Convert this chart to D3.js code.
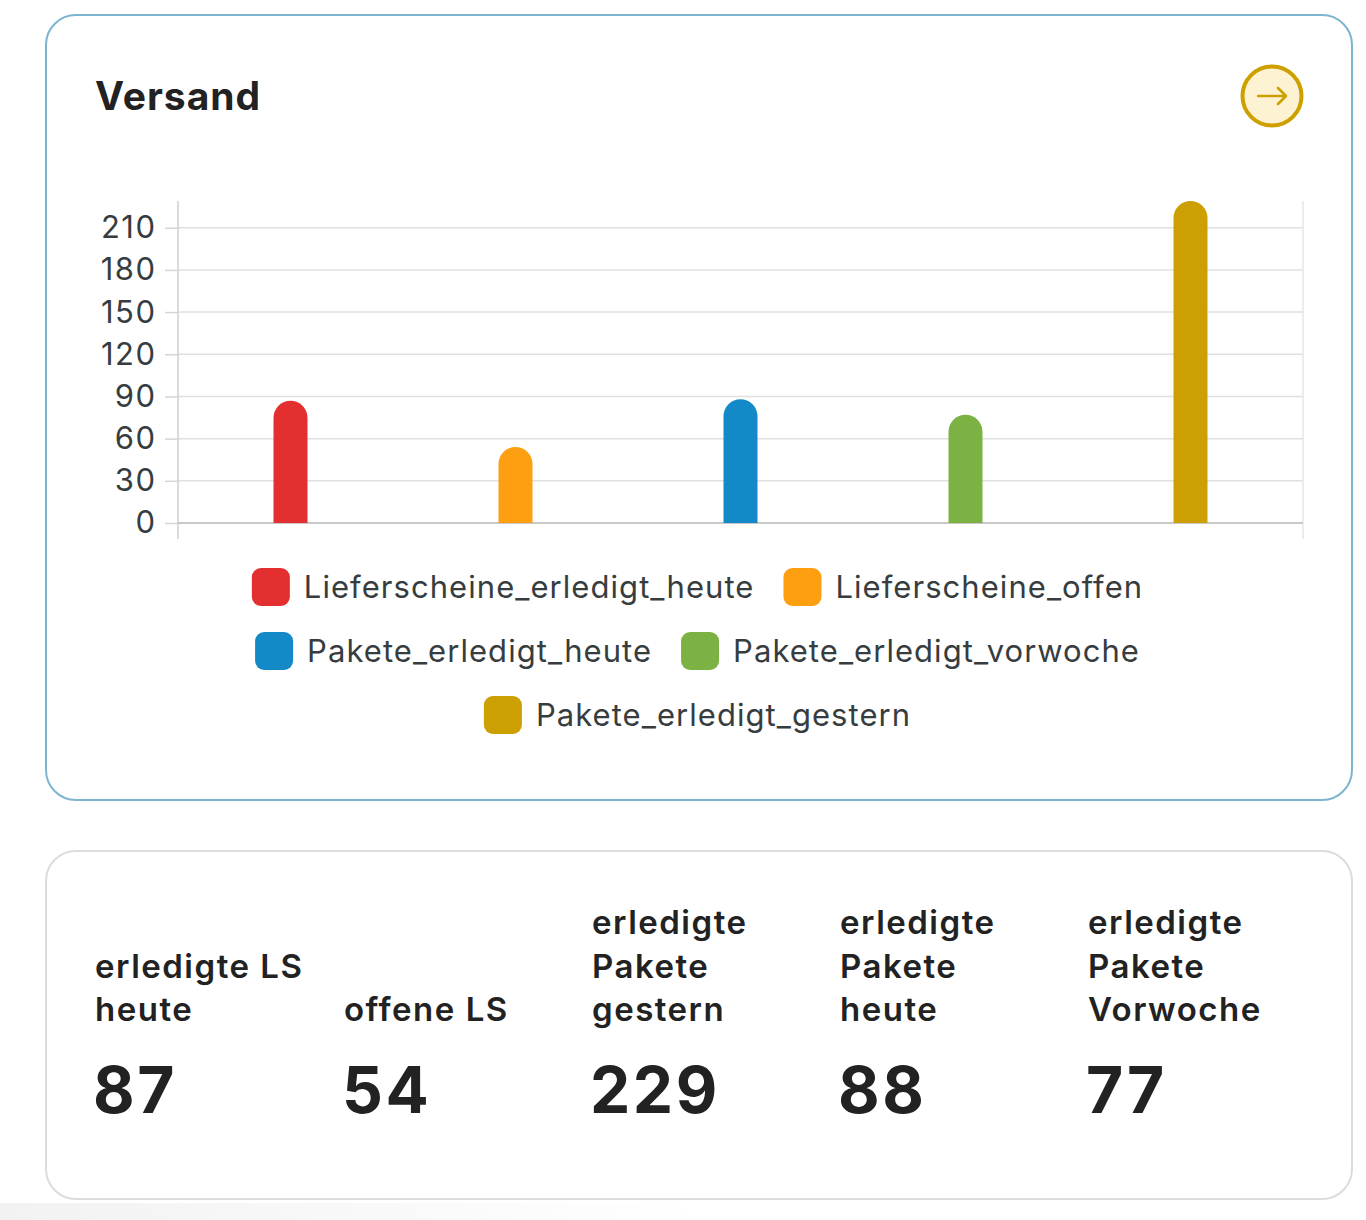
<!DOCTYPE html>
<html>
<head>
<meta charset="utf-8">
<script src="https://cdn.jsdelivr.net/npm/d3@7"></script>
<style>
  html, body { margin: 0; padding: 0; background: #fff; }
  svg { display: block; font-family: Inter, "Noto Sans", sans-serif; }
</style>
</head>
<body>
<svg id="chart" width="1366" height="1220"></svg>
<script>
// ---- data ----
const title = "Versand";
const categories = [
  "Lieferscheine_erledigt_heute",
  "Lieferscheine_offen",
  "Pakete_erledigt_heute",
  "Pakete_erledigt_vorwoche",
  "Pakete_erledigt_gestern"
];
const values = [87, 54, 88, 77, 229];
const colors = ["#e32f2f", "#fd9f10", "#1489c7", "#7cb243", "#cc9f02"];
const yTicks = [0, 30, 60, 90, 120, 150, 180, 210];

const kpiLabels = [
  ["erledigte LS", "heute"],
  ["offene LS"],
  ["erledigte", "Pakete", "gestern"],
  ["erledigte", "Pakete", "heute"],
  ["erledigte", "Pakete", "Vorwoche"]
];
const kpiSeries = [
  "Lieferscheine_erledigt_heute",
  "Lieferscheine_offen",
  "Pakete_erledigt_gestern",
  "Pakete_erledigt_heute",
  "Pakete_erledigt_vorwoche"
];

// ---- layout ----
const svg = d3.select("#chart");

// background strip at bottom
const defs = svg.append("defs");
const grad = defs.append("linearGradient").attr("id", "strip").attr("x1", 0).attr("x2", 1);
grad.append("stop").attr("offset", 0).attr("stop-color", "#f2f2f2");
grad.append("stop").attr("offset", 1).attr("stop-color", "#fff");
svg.append("rect").attr("x", 0).attr("y", 1203).attr("width", 700).attr("height", 17).attr("fill", "url(#strip)");

// cards
svg.append("rect").attr("x", 46).attr("y", 15).attr("width", 1306).attr("height", 785)
  .attr("rx", 30).attr("fill", "#fff").attr("stroke", "#7db4cf").attr("stroke-width", 2);
svg.append("rect").attr("x", 46).attr("y", 851).attr("width", 1306).attr("height", 348)
  .attr("rx", 30).attr("fill", "#fff").attr("stroke", "#dcdcdc").attr("stroke-width", 2);

// title
svg.append("text").attr("x", 95).attr("y", 110).text(title)
  .attr("font-size", 39).attr("font-weight", 700).attr("letter-spacing", 1).attr("fill", "#222");

// button
const btn = svg.append("g").attr("transform", "translate(1272,96)");
btn.append("circle").attr("r", 29.5).attr("fill", "#fdf2d2").attr("stroke", "#cda000").attr("stroke-width", 4);
btn.append("path").attr("d", "M-14,0 L14,0 M6,-8 L14,0 L6,8")
  .attr("fill", "none").attr("stroke", "#cda000").attr("stroke-width", 2.5)
  .attr("stroke-linecap", "round").attr("stroke-linejoin", "round");

// chart
const plotL = 178, plotR = 1303, plotT = 201, plotB = 523;
const x = d3.scaleBand().domain(categories).range([plotL, plotR]).padding(0);
const y = d3.scaleLinear().domain([0, d3.max(values)]).range([plotB, plotT]);

// gridlines
svg.append("g").selectAll("line").data(yTicks.filter(t => t > 0)).join("line")
  .attr("x1", plotL).attr("x2", plotR)
  .attr("y1", d => y(d)).attr("y2", d => y(d))
  .attr("stroke", "#e0e0e0").attr("stroke-width", 1.5);

// right border line
svg.append("line").attr("x1", plotR).attr("x2", plotR).attr("y1", plotT).attr("y2", 539)
  .attr("stroke", "#e6e6e6").attr("stroke-width", 1.5);

// y axis
const yAxis = d3.axisLeft(y).tickValues(yTicks).tickSize(13).tickPadding(8.5).tickFormat(d3.format("d"));
const yg = svg.append("g").attr("transform", `translate(${plotL},0)`).call(yAxis);
yg.select(".domain").remove();
yg.selectAll(".tick line").attr("stroke", "#d6d6d6").attr("stroke-width", 1.5);
yg.selectAll(".tick text").attr("font-size", 31).attr("letter-spacing", 1.5).attr("fill", "#373d3f")
  .attr("font-family", "Inter, sans-serif");
svg.append("line").attr("x1", plotL).attr("x2", plotL).attr("y1", plotT).attr("y2", 539)
  .attr("stroke", "#cfcfcf").attr("stroke-width", 1.5);

// x baseline
svg.append("line").attr("x1", plotL).attr("x2", plotR).attr("y1", y(0)).attr("y2", y(0))
  .attr("stroke", "#c8c8c8").attr("stroke-width", 2);

// bars
const barW = 34;
function barPath(d, i) {
  const cx = x(categories[i]) + x.bandwidth() / 2;
  const x0 = cx - barW / 2, x1 = cx + barW / 2;
  const yt = y(d), yb = y(0), r = barW / 2;
  return `M${x0},${yb} L${x0},${yt + r} A${r},${r} 0 0 1 ${x1},${yt + r} L${x1},${yb} Z`;
}
svg.append("g").selectAll("path").data(values).join("path")
  .attr("d", barPath).attr("fill", (d, i) => colors[i]);

// legend
const legG = svg.append("g");
const markerS = 38, markerGap = 14, itemGap = 30, maxRow = 920, legCenter = 697;
const rowYs = [587, 651, 715];
const items = categories.map((c, i) => {
  const g = legG.append("g");
  g.append("rect").attr("width", markerS).attr("height", markerS).attr("rx", 9)
    .attr("y", -markerS / 2).attr("fill", colors[i]);
  const t = g.append("text").attr("x", markerS + markerGap).attr("dy", "0.35em")
    .attr("font-size", 31).attr("letter-spacing", 1.05).attr("fill", "#373d3f").text(c);
  const w = markerS + markerGap + t.node().getComputedTextLength() - 1;
  return { g, w };
});
const rows = [];
let cur = [], curW = 0;
items.forEach(it => {
  const add = cur.length ? itemGap + it.w : it.w;
  if (cur.length && curW + add > maxRow) { rows.push({ items: cur, w: curW }); cur = [it]; curW = it.w; }
  else { cur.push(it); curW += add; }
});
if (cur.length) rows.push({ items: cur, w: curW });
rows.forEach((row, ri) => {
  let xx = legCenter - row.w / 2;
  row.items.forEach(it => {
    it.g.attr("transform", `translate(${xx},${rowYs[ri]})`);
    xx += it.w + itemGap;
  });
});

// KPI card
const kpiX = [95, 344, 592, 840, 1088];
const lastBaseline = 1021, lineH = 43.5, numBaseline = 1113;
kpiLabels.forEach((lines, i) => {
  const t = svg.append("text").attr("x", kpiX[i])
    .attr("font-size", 33).attr("font-weight", 600).attr("letter-spacing", 1.5).attr("fill", "#222");
  lines.forEach((ln, j) => {
    t.append("tspan").attr("x", kpiX[i])
      .attr("y", lastBaseline - (lines.length - 1 - j) * lineH).text(ln);
  });
  const v = values[categories.indexOf(kpiSeries[i])];
  svg.append("text").attr("x", kpiX[i] - 2).attr("y", numBaseline)
    .attr("font-size", 64).attr("font-weight", 700).attr("letter-spacing", 2.5).attr("fill", "#222").text(v);
});
</script>
</body>
</html>
